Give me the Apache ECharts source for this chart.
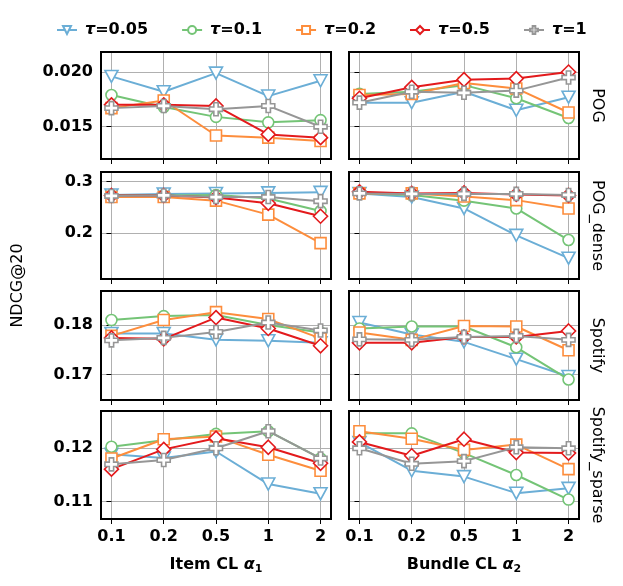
<!DOCTYPE html>
<html><head><meta charset="utf-8">
<script src="https://cdn.jsdelivr.net/npm/echarts@6/dist/echarts.min.js"></script>
<style>html,body{margin:0;padding:0;background:#fff}#c{width:623px;height:586px}</style>
</head><body><div id="c"></div>
<script>
// ---- data ----
const xLabels = ['0.1', '0.2', '0.5', '1', '2'];
const tauNames = ['τ=0.05', 'τ=0.1', 'τ=0.2', 'τ=0.5', 'τ=1'];
const rowNames = ['POG', 'POG_dense', 'Spotify', 'Spotify_sparse'];

// each: [tau0.05, tau0.1, tau0.2, tau0.5, tau1]
const POG_item = [
  [0.0196, 0.0182, 0.0199, 0.0178, 0.0192],
  [0.0179, 0.0168, 0.0159, 0.0154, 0.0156],
  [0.0167, 0.0174, 0.0142, 0.0140, 0.0137],
  [0.0170, 0.0170, 0.0169, 0.0143, 0.0140],
  [0.0167, 0.0169, 0.0166, 0.0169, 0.0150]
];
const POG_bundle = [
  [0.0172, 0.0172, 0.0182, 0.0165, 0.0177],
  [0.0180, 0.0182, 0.0188, 0.0176, 0.0158],
  [0.0179, 0.0180, 0.0190, 0.0185, 0.0163],
  [0.0176, 0.0186, 0.0193, 0.0194, 0.0200],
  [0.0172, 0.0182, 0.0181, 0.0183, 0.0195]
];
const POGdense_item = [
  [0.274, 0.276, 0.277, 0.278, 0.279],
  [0.273, 0.273, 0.274, 0.267, 0.243],
  [0.270, 0.270, 0.263, 0.236, 0.181],
  [0.273, 0.273, 0.269, 0.258, 0.233],
  [0.272, 0.273, 0.270, 0.270, 0.262]
];
const POGdense_bundle = [
  [0.277, 0.270, 0.248, 0.196, 0.152],
  [0.277, 0.274, 0.263, 0.248, 0.187],
  [0.277, 0.277, 0.271, 0.264, 0.248],
  [0.280, 0.277, 0.278, 0.275, 0.273],
  [0.277, 0.276, 0.276, 0.276, 0.274]
];
const Spotify_item = [
  [0.1783, 0.1783, 0.1770, 0.1768, 0.1764],
  [0.1810, 0.1818, 0.1820, 0.1800, 0.1785],
  [0.1778, 0.1810, 0.1826, 0.1812, 0.1773],
  [0.1774, 0.1772, 0.1815, 0.1793, 0.1758],
  [0.1769, 0.1774, 0.1786, 0.1805, 0.1789]
];
const Spotify_bundle = [
  [0.1805, 0.1781, 0.1766, 0.1731, 0.1696],
  [0.1793, 0.1797, 0.1797, 0.1755, 0.1690],
  [0.1785, 0.1770, 0.1798, 0.1797, 0.1749],
  [0.1764, 0.1764, 0.1776, 0.1776, 0.1788],
  [0.1771, 0.1770, 0.1776, 0.1778, 0.1770]
];
const SpotifySparse_item = [
  [0.1189, 0.1182, 0.1194, 0.1133, 0.1115],
  [0.1203, 0.1215, 0.1227, 0.1232, 0.1181],
  [0.1181, 0.1217, 0.1222, 0.1188, 0.1158],
  [0.1161, 0.1198, 0.1219, 0.1202, 0.1172],
  [0.1170, 0.1178, 0.1200, 0.1232, 0.1181]
];
const SpotifySparse_bundle = [
  [0.1211, 0.1158, 0.1147, 0.1116, 0.1125],
  [0.1228, 0.1228, 0.1191, 0.1150, 0.1104],
  [0.1232, 0.1218, 0.1197, 0.1207, 0.1161],
  [0.1212, 0.1186, 0.1217, 0.1192, 0.1191],
  [0.1200, 0.1171, 0.1176, 0.1202, 0.1200]
];

const yTickValues = [[0.015, 0.020], [0.2, 0.3], [0.17, 0.18], [0.11, 0.12]];
const yTickLabels = [['0.015', '0.020'], ['0.2', '0.3'], ['0.17', '0.18'], ['0.11', '0.12']];
const yRanges = [[0.01205, 0.02183], [0.1118, 0.3183], [0.16485, 0.18687], [0.10676, 0.12699]];

// ---- layout / style ----
const panels = [
  [POG_item, POG_bundle],
  [POGdense_item, POGdense_bundle],
  [Spotify_item, Spotify_bundle],
  [SpotifySparse_item, SpotifySparse_bundle]
];
const FONT = 'DejaVu Sans';
const colors = ['#6baed6', '#74c476', '#fd8d3c', '#e31a1c', '#969696'];
const plusPath = 'path://M-1,-3H1V-1H3V1H1V3H-1V1H-3V-1H-1Z';
const symbols = ['triangle', 'circle', 'rect', 'diamond', plusPath];
const symRot = [180, 0, 0, 0, 0];
const symSize = [[13, 12], 11, 11, 14, 13];

const rowTops = [52, 172, 291, 411];
const rowHeights = [107, 107, 109, 108];
const colLefts = [101, 349];
const colWidth = 230;

const grids = [], xAxes = [], yAxes = [], series = [];
for (let r = 0; r < 4; r++) {
  for (let c = 0; c < 2; c++) {
    const idx = grids.length;
    grids.push({
      left: colLefts[c], top: rowTops[r], width: colWidth, height: rowHeights[r],
      show: true, borderColor: '#000', borderWidth: 2, backgroundColor: 'transparent', z: 5
    });
    const isBottom = r === 3;
    xAxes.push({
      type: 'value', gridIndex: idx, min: -0.2, max: 4.2, splitNumber: 5,
      axisLine: { show: false },
      axisTick: { show: true, length: 5, lineStyle: { color: '#000', width: 1 }, customValues: [0, 1, 2, 3, 4] },
      axisLabel: {
        show: isBottom, customValues: [0, 1, 2, 3, 4], margin: 10,
        formatter: v => xLabels[Math.round(v)] ?? '',
        color: '#000', fontFamily: FONT, fontWeight: 'bold', fontSize: 16
      },
      splitLine: { show: true, lineStyle: { color: '#b0b0b0', width: 1 } },
      name: isBottom ? (c === 0 ? '{b|Item CL }{a|α}{s|1}' : '{b|Bundle CL }{a|α}{s|2}') : '',
      nameLocation: 'middle', nameGap: 36,
      nameTextStyle: {
        color: '#000',
        rich: {
          b: { fontFamily: FONT, fontWeight: 'bold', fontSize: 16, lineHeight: 20, color: '#000' },
          a: { fontFamily: FONT, fontWeight: 'bold', fontStyle: 'italic', fontSize: 16, lineHeight: 20, color: '#000' },
          s: { fontFamily: FONT, fontWeight: 'bold', fontSize: 11, lineHeight: 12, verticalAlign: 'bottom', color: '#000' }
        }
      }
    });
    yAxes.push({
      type: 'value', gridIndex: idx, min: yRanges[r][0], max: yRanges[r][1], splitNumber: 2,
      axisLine: { show: false },
      axisTick: { show: true, length: 5, lineStyle: { color: '#000', width: 1 }, customValues: yTickValues[r] },
      axisLabel: {
        show: c === 0, customValues: yTickValues[r], margin: 8,
        formatter: v => {
          const k = yTickValues[r].findIndex(t => Math.abs(t - v) < 1e-9);
          return k >= 0 ? yTickLabels[r][k] : '';
        },
        color: '#000', fontFamily: FONT, fontWeight: 'bold', fontSize: 16
      },
      splitLine: { show: true, lineStyle: { color: '#b0b0b0', width: 1 } }
    });
    const panel = panels[r][c];
    for (let s = 0; s < 5; s++) {
      series.push({
        type: 'line', name: tauNames[s], xAxisIndex: idx, yAxisIndex: idx,
        data: panel[s].map((v, i) => [i, v]),
        symbol: symbols[s], symbolRotate: symRot[s], symbolSize: symSize[s],
        showAllSymbol: true,
        lineStyle: { color: colors[s], width: 2 },
        itemStyle: { color: '#fff', borderColor: colors[s], borderWidth: 1.6 },
        emphasis: { disabled: true },
        z: 2 + s * 0.01
      });
    }
  }
}

const graphics = [];
const panelTop = rowTops[0], panelBottom = rowTops[3] + rowHeights[3];
graphics.push({
  type: 'text', x: 18, y: (panelTop + panelBottom) / 2, rotation: Math.PI / 2,
  style: { text: 'NDCG@20', font: '16px "DejaVu Sans"', fill: '#000', align: 'center', verticalAlign: 'middle' }
});
for (let r = 0; r < 4; r++) {
  graphics.push({
    type: 'text', x: 597, y: rowTops[r] + rowHeights[r] / 2, rotation: -Math.PI / 2,
    style: { text: rowNames[r], font: '16px "DejaVu Sans"', fill: '#000', align: 'center', verticalAlign: 'middle' }
  });
}

const option = {
  animation: false,
  backgroundColor: '#fff',
  color: colors,
  legend: {
    data: tauNames, left: 51, top: 17, itemWidth: 20, itemHeight: 10, itemGap: 33,
    formatter: n => '{i|τ}{t|' + n.slice(1) + '}',
    textStyle: {
      color: '#000',
      rich: {
        i: { fontFamily: FONT, fontWeight: 'bold', fontStyle: 'italic', fontSize: 16, padding: [0, 0, 0, 3], color: '#000' },
        t: { fontFamily: FONT, fontWeight: 'bold', fontSize: 16, color: '#000' }
      }
    }
  },
  grid: grids, xAxis: xAxes, yAxis: yAxes, series: series,
  graphic: graphics
};
const chart = echarts.init(document.getElementById('c'), null, { renderer: 'canvas' });
chart.setOption(option);
</script>
</body></html>
